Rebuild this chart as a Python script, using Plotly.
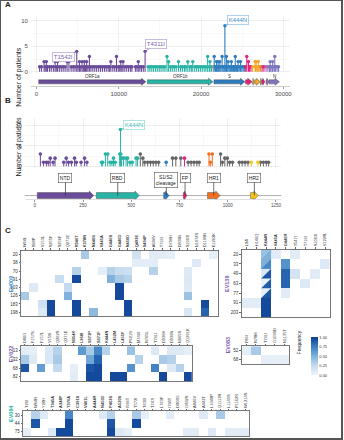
import plotly.graph_objects as go
from plotly.colors import sample_colorscale

W, H = 344, 440
FONT = "Liberation Sans, Arial, sans-serif"

# ---------------- Panel A data (genome positions) ----------------
gene_names = ["ORF1a", "ORF1b", "S", "ORF3a", "E", "M", "ORF6", "ORF7a", "ORF8", "N"]
gene_start = [266, 13470, 21563, 25393, 26245, 26523, 27202, 27394, 27894, 28274]
gene_end = [13300, 21450, 25330, 26220, 26472, 27191, 27387, 27759, 28259, 29533]
gene_colors = ["#6b4c9a", "#27b3a5", "#2e7ebf", "#e4217f", "#f5a52a", "#f5a52a",
               "#dd8a2a", "#e4217f", "#a46cb8", "#7f78c0"]
gene_labels = ["ORF1a", "ORF1b", "S", "", "", "", "", "", "", "N"]

a_pos = [380, 610, 920, 1050, 1200, 1340, 1580, 1790, 2050, 2260,
         2400, 2560, 2780, 3010, 3240, 3480, 3720, 3940, 4210, 4450,
         4680, 4892, 5050, 5220, 5380, 5540, 5690, 5820, 5960, 6100,
         6250, 6430, 6620, 6850, 7080, 7310, 7560, 7790, 8020, 8260,
         8480, 8710, 8890, 9040, 9280, 9510, 9720, 9930, 10060, 10240,
         10380, 10520, 10730, 10960, 11190, 11420, 11600, 12020, 12210, 12370,
         12560, 12760, 12980, 13199,
         13560, 13780, 14010, 14230, 14470, 14690, 14920, 15140, 15380, 15610,
         15860, 16060, 16280, 16500, 16740, 16980, 17260, 17510, 17740, 17980,
         18170, 18390, 18620, 18820, 18990, 19230, 19460, 19690, 19920, 20150,
         20380, 20590, 20800, 21010, 21080, 21270, 21480,
         21600, 21760, 21880, 21960, 22080, 22160, 22280, 22400, 22560, 22680,
         22800, 22895, 23000, 23080, 23180, 23280, 23420, 23560, 23680, 23800,
         23940, 24080, 24160, 24300, 24420, 24500, 24640, 24800, 24960, 25120, 25300,
         25420, 25560, 25760, 25900, 26060, 26260, 26560, 26620, 26700, 26840,
         26960, 27060, 27240, 27420, 27640, 27900, 28120,
         28320, 28400, 28480, 28640, 28700, 28860, 28960, 29060, 29240, 29420]
a_cnt = [1, 1, 2, 1, 2, 1, 1, 1, 1, 2,
         1, 2, 1, 1, 1, 1, 2, 2, 1, 1,
         1, 4, 1, 2, 1, 2, 1, 2, 1, 2,
         1, 3, 1, 1, 1, 1, 1, 1, 1, 1,
         1, 1, 1, 2, 1, 1, 3, 1, 1, 2,
         1, 2, 1, 1, 1, 1, 1, 1, 1, 2,
         1, 1, 1, 4,
         1, 1, 1, 1, 1, 1, 1, 1, 1, 1,
         3, 2, 1, 1, 1, 1, 2, 1, 1, 1,
         1, 2, 1, 1, 2, 1, 1, 1, 1, 1,
         1, 1, 3, 1, 2, 1, 1,
         3, 1, 2, 1, 2, 1, 2, 1, 3, 1,
         1, 9, 1, 3, 1, 2, 1, 1, 2, 1,
         1, 1, 3, 1, 1, 2, 1, 2, 1, 1, 1,
         1, 3, 2, 1, 1, 1, 2, 1, 2, 1,
         2, 1, 1, 1, 1, 1, 1,
         1, 2, 1, 1, 2, 1, 3, 1, 1, 1]
a_labels = ["T1542I", "T4311I", "K444N"]
a_label_pos = [4892, 13199, 22895]
a_label_cnt = [4, 4, 9]

# ---------------- Panel B data (spike residues) ----------------
dom_names = ["NTD", "RBD", "S1/S2<br>cleavage", "FP", "HR1", "HR2"]
dom_start = [13, 319, 668, 770, 895, 1118]
dom_end = [305, 541, 696, 788, 960, 1158]
dom_colors = ["#6b4c9a", "#27b3a5", "#2e7ebf", "#e4217f", "#f37021", "#f5c518"]
other_color = "#666666"

b_pos = [29, 45, 60, 70, 80, 95, 105, 150, 163, 175,
         190, 206, 215, 240, 258, 270, 346, 352, 366, 378,
         390, 400, 408, 417, 440, 444, 446, 450, 460, 473,
         481, 493, 505, 525, 533, 547, 560, 570, 585, 600,
         614, 628, 642, 681, 714, 731, 757, 776, 795, 810,
         825, 840, 852, 903, 910, 920, 963, 972, 985, 998,
         1010, 1025, 1060, 1075, 1090, 1105, 1122, 1157, 1170, 1185,
         1200, 1212]
b_cnt = [3, 1, 1, 1, 2, 1, 2, 1, 2, 1,
         1, 2, 1, 1, 2, 1, 1, 1, 3, 3,
         1, 1, 2, 1, 3, 9, 3, 2, 2, 2,
         2, 1, 1, 2, 2, 3, 2, 1, 1, 1,
         1, 1, 1, 1, 2, 2, 2, 2, 1, 1,
         1, 1, 1, 3, 1, 3, 3, 1, 2, 2,
         1, 1, 1, 1, 1, 1, 1, 1, 1, 1,
         1, 1]

# ---------------- Panel C data (heatmaps, 0 = not detected) ----------------
ev009_cols = ["W64L", "S98P", "V153L", "S255F", "S256F", "Q271E", "R346T", "K378N", "N440S",
              "V445A", "G446S", "G446D", "N450D", "Q493E", "S494P", "A684V", "T716I", "D796H",
              "D839N", "S1003I", "N1074S", "D1199N", "E1262K"]
ev009_rows = ["20", "38", "70", "91", "103", "126", "183", "198"]
ev009_z = [
    [0, 0, 0, 0, 0, 0, 0, .35, 0, 0, 0, 0, 0, .18, 0, .08, .08, .06, 0, 0, 0, 0, .06],
    [0, 0, 0, 0, 0, 0, 0, 0, 0, 0, 0, 0, 0, .07, .07, .07, 0, 0, 0, 0, .1, 0, 0],
    [0, 0, 0, 0, 0, 0, .3, 0, 0, .06, .3, .22, .2, 0, 0, .3, 0, 0, 0, .1, 0, 0, 0],
    [0, 0, 0, 0, .22, 0, .95, 0, 0, 0, .5, .35, .3, 0, 0, 0, 0, 0, 0, .12, 0, 0, 0],
    [0, .1, 0, 0, 0, .25, 0, 0, 0, 0, 0, .95, 0, 0, 0, 0, 0, 0, 0, .1, 0, 0, 0],
    [.35, 0, 0, 0, 0, .5, 0, 0, 0, 0, 0, .95, 0, 0, 0, 0, 0, 0, 0, .4, 0, 0, 0],
    [0, 0, .18, .95, 0, 0, .95, 0, 0, 0, 0, 0, .95, 0, 0, 0, 0, 0, 0, 0, 0, .95, 0],
    [0, 0, .1, .95, 0, 0, .95, 0, .45, 0, 0, 0, .95, 0, 0, 0, 0, 0, 0, .12, 0, .85, 0],
]

ev138_cols = ["L84I", "H146Q", "K444N", "V445A", "G446R", "T547I", "T716I", "S1003I", "V1228L"]
ev138_rows = ["20", "33", "49", "63", "77", "91", "203"]
ev138_z = [
    [0, 0, .4, .08, 0, .08, 0, 0, 0],
    [0, 0, .5, 0, .65, 0, 0, 0, .1],
    [0, 0, .12, 0, .85, .15, 0, .08, 0],
    [0, 0, .04, 0, .85, 0, .1, 0, 0],
    [0, 0, .04, 0, .08, 0, 0, 0, 0],
    [.08, .08, .95, 0, 0, 0, 0, 0, 0],
    [0, 0, .95, 0, 0, 0, 0, 0, 0],
]
ev138_split_col = 2
ev138_split_rows = [0, 1, 2, 3, 4]
ev138_split_vals = [.5, .7, .9, .88, .9]

ev022_cols = ["D80G", "F157S", "F157L", "V159I", "Q262S", "Q271E", "N354K", "L368I", "S371P",
              "S371F", "K444N", "L452M", "L455F", "P621S", "M740I", "R765L", "T791I", "D936H",
              "D936N", "N965S", "Q1201K"]
ev022_rows = ["13", "32", "68", "82"]
ev022_z = [
    [.08, .05, 0, .12, .3, 0, 0, .62, .35, .7, .3, 0, 0, .4, 0, 0, .1, 0, .1, .1, .05],
    [.35, .1, 0, .12, .35, 0, 0, 0, .55, .85, 0, 0, 0, 0, .3, 0, 0, .35, .3, 0, 0],
    [.9, 0, .6, 0, .25, 0, .05, 0, .9, .95, 0, 0, 0, .65, 0, 0, .72, 0, .1, .3, 0],
    [0, 0, 0, 0, 0, 0, .08, 0, .95, .95, 0, .95, .95, 0, 0, 0, 0, .95, 0, 0, .95],
]

ev083_cols = ["F86I", "R78M", "T791I", "G1099D", "N1135T"]
ev083_rows = ["52", "68"]
ev083_z = [
    [.06, .35, 0, 0, 0],
    [0, 0, .05, .05, .05],
]

ev084_cols = ["T20I", "W64R", "Y28H", "T345A", "A348P", "T376A", "C391S", "V401L", "A444R",
              "N450D", "P463S", "A520S", "I566T", "T572I", "T630I", "T747I", "L763F", "I794T",
              "D808G", "G842S", "A846V", "A942T", "L1048P", "Q1113R", "L1145S", "P1162S", "W1214S"]
ev084_rows = ["30", "44", "75"]
ev084_z = [
    [0, .3, .1, 0, 0, .7, 0, 0, 0, .1, .3, 0, 0, .35, .05, 0, 0, .08, 0, 0, 0, .1, 0, .35, 0, 0, 0],
    [0, .9, 0, 0, 0, .95, 0, 0, 0, 0, .9, 0, 0, .95, 0, 0, 0, 0, 0, 0, 0, 0, 0, 0, 0, 0, 0],
    [.05, 0, 0, .1, .95, .95, 0, 0, 0, 0, .95, .1, .05, 0, 0, 0, 0, 0, 0, .08, .08, 0, .1, 0, .08, .08, .08],
]

freq_ticks = [0, 0.25, 0.5, 0.75, 1.0]
CS = [[0, "#eef4fb"], [0.25, "#c4daee"], [0.5, "#7fb1db"], [0.75, "#3a7ec2"], [1, "#0a3c93"]]


# ---------------- helpers ----------------
def dx(px):
    return px / W


def dy(py):
    return 1 - py / H


def color_for(p, starts, ends, cols, default):
    for s, e, c in zip(starts, ends, cols):
        if s <= p <= e:
            return c
    return default


def arrow_poly(s, e, body, head, headlen):
    hl = min(headlen, (e - s) * 0.7)
    xs = [s, e - hl, e - hl, e, e - hl, e - hl, s, s]
    ys = [-body, -body, -head, 0, head, body, body, -body]
    return xs, ys


fig = go.Figure()
annotations = []
shapes = []


def add_lollipops(pos, cnt, colors, xa, ya, lw, ms):
    groups = {}
    for p, c, col in zip(pos, cnt, colors):
        groups.setdefault(col, []).append((p, c))
    for col, pts in groups.items():
        sx, sy = [], []
        for p, c in pts:
            sx += [p, p, None]
            sy += [0, c, None]
        fig.add_trace(go.Scatter(x=sx, y=sy, mode="lines", line=dict(color=col, width=lw),
                                 xaxis=xa, yaxis=ya, hoverinfo="skip"))
        fig.add_trace(go.Scatter(x=[p for p, _ in pts], y=[c for _, c in pts], mode="markers",
                                 marker=dict(color=col, size=ms), xaxis=xa, yaxis=ya, hoverinfo="skip"))


# ---------------- Panel A ----------------
a_colors = [color_for(p, gene_start, gene_end, gene_colors, "#999999") for p in a_pos]
add_lollipops(a_pos, a_cnt, a_colors, "x", "y", 1.1, 3.4)

for s, e, c, lab in zip(gene_start, gene_end, gene_colors, gene_labels):
    xs, ys = arrow_poly(s, e, 0.29, 0.5, 550)
    fig.add_trace(go.Scatter(x=xs, y=ys, mode="lines", fill="toself", fillcolor=c,
                             line=dict(color="#3a3a3a", width=0.4), xaxis="x2", yaxis="y2",
                             hoverinfo="skip"))
    if lab:
        annotations.append(dict(x=(s + e) / 2, y=0.78, xref="x2", yref="y2", text=lab,
                                showarrow=False, font=dict(size=4.5, color="#333")))
shapes.append(dict(type="line", xref="x2 domain", yref="y2", x0=0, x1=1, y0=0, y1=0,
                   line=dict(color="#9a9a9a", width=0.8), layer="below"))

a_offsets = [(-13, 6), (11, -7), (13, -6)]
a_lab_cols = ["#7b62b0", "#7b62b0", "#3a8fd0"]
a_lab_border = ["#b9acd6", "#b9acd6", "#9cc6ea"]
for lab, p, c, (ox, oy), tc, bc in zip(a_labels, a_label_pos, a_label_cnt, a_offsets, a_lab_cols, a_lab_border):
    annotations.append(dict(x=p, y=c, xref="x", yref="y", text=lab, showarrow=True, arrowhead=0,
                            arrowwidth=0.7, arrowcolor=tc, ax=ox, ay=oy, bgcolor="white",
                            bordercolor=bc, borderwidth=0.8, borderpad=1,
                            font=dict(size=6, color=tc)))

# ---------------- Panel B ----------------
b_colors = [color_for(p, dom_start, dom_end, dom_colors, other_color) for p in b_pos]
add_lollipops(b_pos, b_cnt, b_colors, "x3", "y3", 1.0, 3.6)

shapes.append(dict(type="line", xref="x4 domain", yref="y4", x0=0, x1=1, y0=0, y1=0,
                   line=dict(color="#9a9a9a", width=0.8), layer="below"))
for s, e, c, lab in zip(dom_start, dom_end, dom_colors, dom_names):
    xs, ys = arrow_poly(s, e, 0.3, 0.45, 22)
    fig.add_trace(go.Scatter(x=xs, y=ys, mode="lines", fill="toself", fillcolor=c,
                             line=dict(color="#3a3a3a", width=0.4), xaxis="x4", yaxis="y4",
                             hoverinfo="skip"))
    annotations.append(dict(x=(s + e) / 2, y=0, xref="x4", yref="y4", text=lab, showarrow=True,
                            arrowhead=0, arrowwidth=0.7, arrowcolor="#333", ax=0,
                            ay=-16 if "<br>" in lab else -18,
                            bgcolor="white", bordercolor="#555", borderwidth=0.6, borderpad=1.2,
                            font=dict(size=5, color="#222")))
annotations.append(dict(x=444, y=9, xref="x3", yref="y3", text="K444N", showarrow=True, arrowhead=0,
                        arrowwidth=0.7, arrowcolor="#3bbfb3", ax=14, ay=-5, bgcolor="white",
                        bordercolor="#9edfd9", borderwidth=0.8, borderpad=1,
                        font=dict(size=6, color="#3bbfb3")))

# axis titles
for cy in (45, 147):
    annotations.append(dict(x=dx(13), y=dy(cy), xref="paper", yref="paper", text="Number of patients",
                            textangle=-90, showarrow=False, font=dict(size=7, color="#222")))

grid = "#e6e6e6"
minor_grid = "#f3f3f3"
lay = dict(
    xaxis=dict(domain=[dx(31), dx(292)], range=[-689, 30846], anchor="y", showticklabels=False,
               tick0=0, dtick=10000, showgrid=True, gridcolor=grid, gridwidth=0.6, zeroline=False,
               minor=dict(dtick=5000, tick0=0, showgrid=True, gridcolor=minor_grid, gridwidth=0.5)),
    yaxis=dict(domain=[dy(75), dy(16)], range=[-0.58, 10.91], anchor="x", tickvals=[0, 5, 10],
               tickfont=dict(size=6, color="#4d4d4d"), showgrid=True, gridcolor=grid, gridwidth=0.6,
               zeroline=False, ticklabelstandoff=2,
               minor=dict(dtick=2.5, tick0=0, showgrid=True, gridcolor=minor_grid, gridwidth=0.5)),
    xaxis2=dict(domain=[dx(31), dx(292)], range=[-689, 30846], anchor="y2",
                tickvals=[0, 10000, 20000, 30000], ticktext=["0", "10000", "20000", "30000"],
                tickfont=dict(size=6, color="#4d4d4d"), showgrid=False, zeroline=False,
                showline=True, linecolor="#bbbbbb", linewidth=0.7, ticks="outside", ticklen=2,
                tickcolor="#999"),
    yaxis2=dict(domain=[dy(86), dy(73)], range=[-0.57, 1.29], anchor="x2", visible=False),
    xaxis3=dict(domain=[dx(25), dx(283)], range=[-51.5, 1278], anchor="y3", showticklabels=False,
                tick0=0, dtick=250, showgrid=True, gridcolor=grid, gridwidth=0.6, zeroline=False,
                minor=dict(dtick=125, tick0=0, showgrid=True, gridcolor=minor_grid, gridwidth=0.5)),
    yaxis3=dict(domain=[dy(169), dy(118)], range=[-0.56, 11.88], anchor="x3", tickvals=[0, 5, 10],
                tickfont=dict(size=6, color="#4d4d4d"), showgrid=True, gridcolor=grid, gridwidth=0.6,
                zeroline=False, ticklabelstandoff=2,
                minor=dict(dtick=2.5, tick0=0, showgrid=True, gridcolor=minor_grid, gridwidth=0.5)),
    xaxis4=dict(domain=[dx(25), dx(283)], range=[-51.5, 1278], anchor="y4",
                tickvals=[0, 250, 500, 750, 1000, 1250], tickfont=dict(size=4.5, color="#4d4d4d"),
                showgrid=False, zeroline=False, showline=True, linecolor="#cccccc", linewidth=0.6,
                ticks="outside", ticklen=1.5, tickcolor="#999"),
    yaxis4=dict(domain=[dy(200), dy(170)], range=[-0.4, 2.6], anchor="x4", visible=False),
)


# ---------------- Panel C heatmaps ----------------
def is_bold(label):
    digits = "".join(ch for ch in label[1:-1] if ch.isdigit())
    return digits != "" and 319 <= int(digits) <= 541


def add_heat(i, cols, rows, z, rect, name, name_color, name_px):
    x0, y0, x1, y1 = rect
    zz = [[(v if v > 0 else None) for v in r] for r in z]
    fig.add_trace(go.Heatmap(z=zz, x=list(range(len(cols))), y=list(range(len(rows))),
                             coloraxis="coloraxis", xaxis=f"x{i}", yaxis=f"y{i}", hoverinfo="skip",
                             xgap=0, ygap=0))
    lay[f"xaxis{i}"] = dict(domain=[dx(x0), dx(x1)], range=[-0.5, len(cols) - 0.5], anchor=f"y{i}",
                            side="top", tickmode="array", tickvals=list(range(len(cols))),
                            ticktext=[f"<b>{c}</b>" if is_bold(c) else c for c in cols],
                            tickangle=-90, tickfont=dict(size=4, color="#333"), showgrid=False,
                            zeroline=False, showline=True, mirror=True, linecolor="#555",
                            linewidth=0.8, ticks="outside", ticklen=1.5, tickcolor="#666")
    lay[f"yaxis{i}"] = dict(domain=[dy(y1), dy(y0)], range=[len(rows) - 0.5, -0.5], anchor=f"x{i}",
                            tickmode="array", tickvals=list(range(len(rows))), ticktext=rows,
                            tickfont=dict(size=4.5, color="#333"), showgrid=False, zeroline=False,
                            showline=True, mirror=True, linecolor="#555", linewidth=0.8,
                            ticks="outside", ticklen=1.5, tickcolor="#666")
    annotations.append(dict(x=dx(name_px), y=dy((y0 + y1) / 2), xref="paper", yref="paper",
                            text=f"<b>{name}</b>", textangle=-90, showarrow=False,
                            font=dict(size=5.5, color=name_color)))


add_heat(5, ev009_cols, ev009_rows, ev009_z, (21, 251, 219, 317), "EV009", "#3b8fd4", 6)
add_heat(6, ev138_cols, ev138_rows, ev138_z, (243, 250, 332, 318), "EV138", "#7f62b5", 229)
add_heat(7, ev022_cols, ev022_rows, ev022_z, (21, 347, 193, 382), "EV022", "#7f62b5", 6)
add_heat(8, ev083_cols, ev083_rows, ev083_z, (243, 347, 291, 365), "EV083", "#7f62b5", 229)
add_heat(9, ev084_cols, ev084_rows, ev084_z, (23, 412, 251, 437), "EV084", "#2ab3a6", 6)

# split (two-tone) cells in EV138
split_colors = sample_colorscale(CS, ev138_split_vals)
for r, col in zip(ev138_split_rows, split_colors):
    c = ev138_split_col
    fig.add_trace(go.Scatter(x=[c - 0.5, c + 0.5, c + 0.5, c - 0.5],
                             y=[r + 0.5, r + 0.5, r - 0.5, r + 0.5], mode="lines", fill="toself",
                             fillcolor=col, line=dict(width=0), xaxis="x6", yaxis="y6",
                             hoverinfo="skip"))

annotations.append(dict(x=dx(306), y=dy(357), xref="paper", yref="paper", text="Frequency",
                        textangle=-90, showarrow=False, font=dict(size=5, color="#222")))

for letter, py in (("A", 5), ("B", 101), ("C", 231)):
    annotations.append(dict(x=dx(3), y=dy(py), xref="paper", yref="paper", text=f"<b>{letter}</b>",
                            showarrow=False, xanchor="left", yanchor="middle",
                            font=dict(size=8, color="#222")))

shapes.append(dict(type="rect", xref="paper", yref="paper", x0=0, y0=0, x1=1, y1=1,
                   line=dict(color="#555", width=2)))

fig.update_layout(
    width=W, height=H, margin=dict(l=0, r=0, t=0, b=0), paper_bgcolor="white",
    plot_bgcolor="white", showlegend=False, font=dict(family=FONT, color="#333"),
    annotations=annotations, shapes=shapes, hovermode=False,
    coloraxis=dict(colorscale=CS, cmin=0, cmax=1,
                   colorbar=dict(x=dx(313), xanchor="left", y=dy(376), yanchor="bottom",
                                 len=38 / H, lenmode="fraction", thickness=7,
                                 thicknessmode="pixels", outlinewidth=0, tickvals=freq_ticks,
                                 ticktext=[f"{v:.2f}" for v in freq_ticks], ticks="",
                                 tickfont=dict(size=4, color="#333"), xpad=0, ypad=0)),
    **lay,
)

fig.write_html("out.html", config={"displayModeBar": False, "staticPlot": True},
               post_script="document.body.style.margin='0px';document.body.style.overflow='hidden';")
